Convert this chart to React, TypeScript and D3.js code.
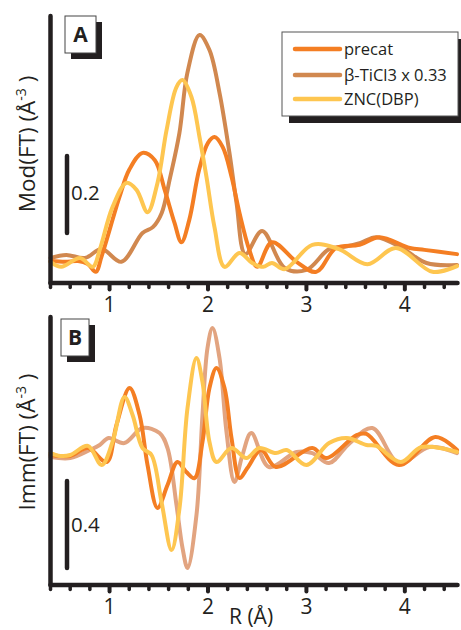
import React from "react";
import * as d3 from "d3";

// ---- Data (R in Å, values in Å^-3) ----
const xTickLabels = [1, 2, 3, 4];
const seriesNames = ["precat", "β-TiCl3 x 0.33", "ZNC(DBP)"];

const precatMod: [number, number][] = [[0.40,0.057],[0.55,0.055],[0.68,0.057],[0.78,0.049],[0.86,0.029],[0.92,0.07],[1.10,0.223],[1.20,0.294],[1.335,0.338],[1.46,0.319],[1.56,0.242],[1.66,0.156],[1.73,0.106],[1.81,0.164],[1.91,0.294],[2.0,0.364],[2.066,0.379],[2.15,0.353],[2.24,0.275],[2.32,0.182],[2.42,0.086],[2.50,0.042],[2.65,0.106],[2.9,0.055],[3.1,0.029],[3.3,0.091],[3.54,0.099],[3.74,0.119],[4.05,0.091],[4.2,0.086],[4.53,0.075]];
const ticl3Mod: [number, number][] = [[0.40,0.065],[0.56,0.073],[0.75,0.065],[0.92,0.088],[1.12,0.055],[1.335,0.130],[1.44,0.145],[1.53,0.182],[1.61,0.268],[1.71,0.390],[1.79,0.545],[1.914,0.644],[2.015,0.605],[2.117,0.494],[2.218,0.338],[2.29,0.208],[2.38,0.075],[2.55,0.135],[2.78,0.039],[3.0,0.034],[3.23,0.088],[3.39,0.094],[3.55,0.104],[3.71,0.119],[3.97,0.091],[4.22,0.052],[4.53,0.047]];
const zncMod: [number, number][] = [[0.40,0.055],[0.51,0.042],[0.70,0.065],[0.83,0.042],[0.90,0.086],[1.03,0.197],[1.173,0.260],[1.274,0.242],[1.386,0.184],[1.487,0.260],[1.579,0.397],[1.68,0.509],[1.741,0.527],[1.832,0.483],[1.914,0.379],[1.985,0.275],[2.066,0.145],[2.168,0.042],[2.32,0.078],[2.45,0.052],[2.56,0.042],[2.65,0.052],[2.78,0.036],[3.06,0.099],[3.33,0.088],[3.62,0.049],[3.91,0.091],[4.28,0.029],[4.53,0.044]];

const precatImm: [number, number][] = [[0.40,0.009],[0.60,0.005],[0.78,0.041],[0.97,-0.023],[1.07,0.147],[1.203,0.317],[1.305,0.193],[1.386,-0.037],[1.487,-0.234],[1.589,-0.129],[1.69,-0.023],[1.78,-0.069],[1.863,-0.097],[1.944,0.069],[2.015,0.317],[2.086,0.409],[2.168,0.317],[2.239,0.087],[2.32,-0.097],[2.40,-0.051],[2.54,0.032],[2.69,-0.046],[3.06,0.041],[3.2,-0.005],[3.51,0.101],[3.61,0.106],[3.94,-0.037],[4.31,0.092],[4.53,0.032]];
const ticl3Imm: [number, number][] = [[0.40,0.0],[0.60,-0.005],[0.80,0.032],[0.90,0.055],[0.99,0.087],[1.15,0.064],[1.335,0.133],[1.508,0.110],[1.589,0.041],[1.68,-0.221],[1.741,-0.418],[1.792,-0.510],[1.883,-0.267],[1.944,0.193],[1.995,0.501],[2.046,0.593],[2.117,0.455],[2.188,0.115],[2.269,-0.115],[2.35,0.009],[2.44,0.110],[2.62,-0.046],[2.9,0.023],[3.06,0.018],[3.23,-0.028],[3.44,0.064],[3.67,0.133],[3.94,-0.028],[4.25,0.046],[4.53,0.018]];
const zncImm: [number, number][] = [[0.40,0.018],[0.50,0.005],[0.60,0.009],[0.78,0.051],[0.92,-0.037],[1.03,0.069],[1.152,0.276],[1.234,0.193],[1.335,0.041],[1.426,0.009],[1.528,-0.207],[1.63,-0.428],[1.711,-0.234],[1.792,0.225],[1.883,0.455],[1.944,0.345],[2.015,0.069],[2.086,-0.023],[2.239,0.041],[2.39,-0.005],[2.52,0.041],[2.69,0.018],[2.8,0.032],[3.0,-0.037],[3.23,0.064],[3.41,0.087],[3.61,0.055],[3.71,0.051],[3.96,-0.023],[4.17,0.046],[4.53,0.023]];

const colPrecat = "#F47E23";
const colTicl3A = "#D1884F";
const colTicl3B = "#E2A480";
const colZnc = "#FEC650";
const ink = "#231F20";

const W = 461, H = 630;
const xLeft = 50.5, xRight = 457.5;
const x = d3.scaleLinear().domain([0.4, 4.535]).range([xLeft, xRight]);

const panelA = { top: 16, bottom: 283, y: d3.scaleLinear().domain([0, 0.2]).range([283, 206]) };
const panelB = { top: 317, bottom: 585, y: d3.scaleLinear().domain([0, 0.4]).range([457, 370]) };

const minorTicks = d3.range(0.4, 4.55, 0.2).map((v) => +v.toFixed(2));
const font = "'Open Sans', 'Noto Sans', sans-serif";

function Axes({ p, label, mid }: { p: any; label: string; mid: number }) {
  return (
    <g>
      <line x1={xLeft} x2={xLeft} y1={p.top} y2={p.bottom} stroke={ink} strokeWidth={4.5} strokeLinecap="round" />
      <line x1={xLeft} x2={xRight} y1={p.bottom} y2={p.bottom} stroke={ink} strokeWidth={4.5} strokeLinecap="round" />
      {minorTicks.map((t) => {
        const major = Math.abs(t - Math.round(t)) < 1e-6 && t >= 1;
        return (
          <line key={t} x1={x(t)} x2={x(t)} y1={p.bottom} y2={p.bottom + (major ? 6.5 : 4.5)} stroke={ink} strokeWidth={major ? 4 : 3.5} strokeLinecap="round" />
        );
      })}
      {xTickLabels.map((t) => (
        <text key={t} x={x(t)} y={p.bottom + 29} textAnchor="middle" fontSize={21} fontFamily={font} fill={ink}>{t}</text>
      ))}
      <text transform={`translate(35,${mid}) rotate(-90)`} textAnchor="middle" fontSize={22.5} fontFamily={font} fill={ink}>
        {label}(FT) (Å<tspan dy={-9} fontSize={14}>-3</tspan><tspan dy={9}> )</tspan>
      </text>
    </g>
  );
}

function Tag({ x0, y0, w, h, t }: { x0: number; y0: number; w: number; h: number; t: string }) {
  return (
    <g>
      <rect x={x0 + 6} y={y0 + 6} width={w} height={h} fill={ink} />
      <rect x={x0} y={y0} width={w} height={h} fill="#fff" stroke="#444" strokeWidth={1} />
      <text x={x0 + w / 2} y={y0 + h / 2 + 7.5} textAnchor="middle" fontSize={21} fontWeight="bold" fontFamily={font} fill={ink}>{t}</text>
    </g>
  );
}

export default function App() {
  const lineA = d3.line<[number, number]>().x((d) => x(d[0])).y((d) => panelA.y(d[1])).curve(d3.curveCatmullRom.alpha(0.5));
  const lineB = d3.line<[number, number]>().x((d) => x(d[0])).y((d) => panelB.y(d[1])).curve(d3.curveCatmullRom.alpha(0.5));
  const legendColors = [colPrecat, colTicl3A, colZnc];
  const legendY = [49, 75, 99];
  return (
    <svg width={W} height={H} style={{ position: "absolute", left: 0, top: 0, background: "#fff" }}>
      {/* Panel A */}
      <g fill="none" strokeWidth={4} strokeLinejoin="round" strokeLinecap="round">
        <path d={lineA(ticl3Mod)!} stroke={colTicl3A} />
        <path d={lineA(precatMod)!} stroke={colPrecat} />
        <path d={lineA(zncMod)!} stroke={colZnc} />
      </g>
      <Axes p={panelA} label="Mod" mid={144} />
      <Tag x0={65} y0={16} w={31} h={37} t="A" />
      <line x1={67} x2={67} y1={panelA.y(0.2) - 50} y2={panelA.y(0) - 50} stroke={ink} strokeWidth={4.5} strokeLinecap="round" />
      <text x={71} y={200} fontSize={20.5} fontFamily={font} fill={ink}>0.2</text>
      {/* Legend */}
      <rect x={289} y={39} width={176} height={84} fill={ink} />
      <rect x={282} y={32} width={176} height={84} fill="#fff" stroke="#555" strokeWidth={1} />
      {seriesNames.map((n, i) => (
        <g key={n}>
          <line x1={295} x2={340} y1={legendY[i]} y2={legendY[i]} stroke={legendColors[i]} strokeWidth={4.5} strokeLinecap="round" />
          <text x={344} y={legendY[i] + 6} fontSize={16.5} fontFamily={font} fill={ink}>{n}</text>
        </g>
      ))}

      {/* Panel B */}
      <g fill="none" strokeWidth={4} strokeLinejoin="round" strokeLinecap="round">
        <path d={lineB(ticl3Imm)!} stroke={colTicl3B} />
        <path d={lineB(precatImm)!} stroke={colPrecat} />
        <path d={lineB(zncImm)!} stroke={colZnc} />
      </g>
      <Axes p={panelB} label="Imm" mid={442} />
      <Tag x0={61} y0={319} w={28} h={37} t="B" />
      <line x1={67} x2={67} y1={481} y2={481 + (panelB.y(0) - panelB.y(0.4))} stroke={ink} strokeWidth={4.5} strokeLinecap="round" />
      <text x={71} y={532} fontSize={20.5} fontFamily={font} fill={ink}>0.4</text>
      <text x={229} y={624} fontSize={21} fontFamily={font} fill={ink}>R (Å)</text>
    </svg>
  );
}
